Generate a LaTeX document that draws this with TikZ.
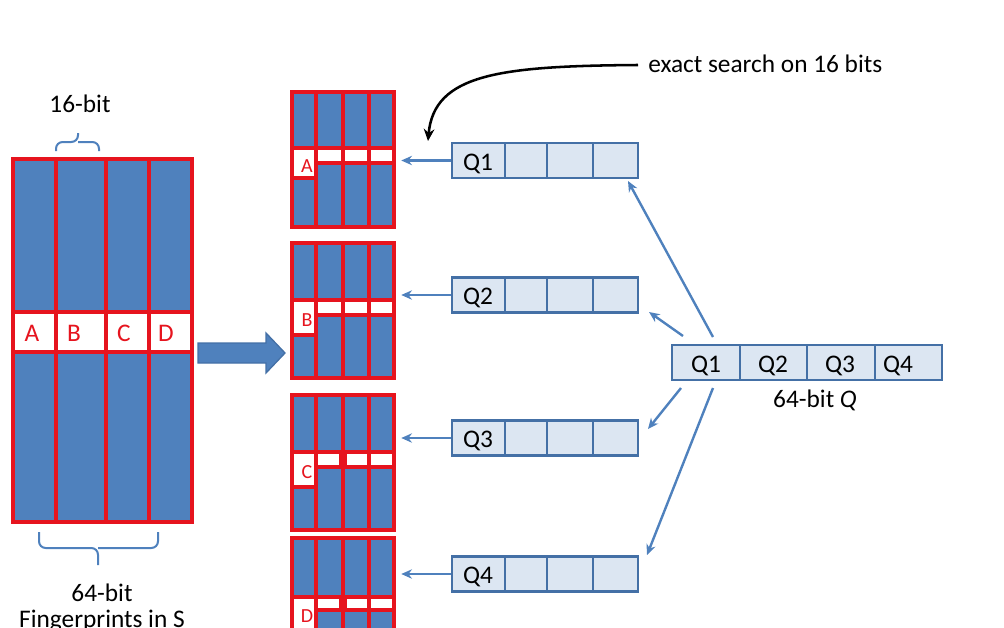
\documentclass[tikz,border=0pt]{standalone}
\usepackage{fontspec}
\setmainfont{Carlito}
\usetikzlibrary{arrows.meta}
\definecolor{pblue}{HTML}{4F81BD}
\definecolor{pred}{RGB}{230,20,30}
\definecolor{qfill}{HTML}{DCE6F2}
\definecolor{qline}{HTML}{4470A6}
\begin{document}
\begin{tikzpicture}[x=0.75pt,y=-0.75pt,
  font=\fontsize{19}{22}\selectfont,
  redline/.style={draw=pred,line width=2.6pt},
  qbox/.style={draw=qline,fill=qfill,line width=2pt,inner sep=0pt,minimum height=26.25pt},
  qdiv/.style={draw=qline,line width=2pt},
  barrow/.style={draw=pblue,line width=1.8pt,-{Stealth[length=8pt,width=7pt]}},
  brace/.style={draw=pblue,line width=1.5pt,rounded corners=5pt},
  lbl/.style={inner sep=0pt,text=black},
  redlbl/.style={inner sep=0pt,text=pred},
  smallred/.style={inner sep=0pt,text=pred,font=\fontsize{15}{17}\selectfont}]
\useasboundingbox (0,0) rectangle (1004,628);
\clip (0,0) rectangle (1004,628);

% ---- big table of fingerprints
\fill[pblue] (13,159) rectangle (192,522);
\fill[white] (13,312) rectangle (192,352);
\draw[redline] (13,159) rectangle (192,522);
\draw[redline] (13,312) -- (192,312) (13,352) -- (192,352);
\foreach \x in {56,106,149} \draw[redline] (\x,159) -- (\x,522);
\node[redlbl] (la) at (32,333) {A};
\node[redlbl] (lb) at (74,333) {B};
\node[redlbl] (lc) at (124,333) {C};
\node[redlbl] (ld) at (166,333) {D};

% braces and labels
\draw[brace] (56,151) -- (56,142) -- (78,142) -- (78,133);
\draw[brace] (78,142) -- (99,142) -- (99,151);
\node[lbl] (sixteen) at (80,104) {16-bit};
\draw[brace] (39,532) -- (39,548) -- (98,548) -- (98,565);
\draw[brace] (98,548) -- (158,548) -- (158,532);
\node[lbl,align=center,anchor=north,font=\fontsize{19}{19.5}\selectfont] (fp) at (102,584) {64-bit\\Fingerprints in S};

% ---- block arrow
\draw[fill=pblue,draw=qline,line width=1pt]
  (198,343) -- (266,343) -- (266,333) -- (285,353) -- (266,373) -- (266,363) -- (198,363) -- cycle;

% ---- permuted tables
\foreach \n/\yt/\ya/\yb/\yc/\L in {1/92/148/163/178/A, 2/243/300/315/335/B, 3/395/452/467/487/C, 4/538/597/610/630/D}{
  \fill[pblue] (292,\yt) rectangle (394,{\yt+135});
  \fill[white] (292,\ya) rectangle (316,\yc);
  \fill[white] (316,\ya) rectangle (394,\yb);
  \draw[redline] (292,\yt) rectangle (394,{\yt+135});
  \foreach \x in {316,343,369} \draw[redline] (\x,\yt) -- (\x,{\yt+135});
  \draw[redline] (292,\ya) -- (394,\ya) (316,\yb) -- (394,\yb) (292,\yc) -- (316,\yc);
  \node[inner sep=0pt,minimum width=76.5pt,minimum height=101.25pt] (t\n) at (343,{\yt+67.5}) {};
  \node[smallred] (tl\n) at (307,{(\ya+\yc)/2+3}) {\L};
}
\fill[pred] (339,452) rectangle (347,467);
\fill[pred] (339,597) rectangle (347,610);

% ---- query boxes
\foreach \n/\y in {1/160.5, 2/295, 3/438, 4/574}{
  \node[qbox,minimum width=139.5pt] (qb\n) at (545,\y) {};
  \foreach \x in {505,547,593} \draw[qdiv] (\x,{\y-17.5}) -- (\x,{\y+17.5});
  \node[lbl] (ql\n) at (478,{\y+3}) {Q\n};
  \draw[barrow,shorten >=5.25pt] (qb\n.west) -- (t\n.east |- qb\n.west);
}

% ---- 64-bit Q
\node[qbox,minimum width=202.5pt] (bigq) at (807,362.5) {};
\foreach \x in {740,807,875} \draw[qdiv] (\x,345) -- (\x,380);
\node[lbl] (bq1) at (706,366) {Q1};
\node[lbl] (bq2) at (773,366) {Q2};
\node[lbl] (bq3) at (840,366) {Q3};
\node[lbl] (bq4) at (898,366) {Q4};
\node[lbl] (qlabel) at (815,400) {64-bit \textit{Q}};

\coordinate (s1) at (713,337);
\coordinate (s2) at (683,336);
\coordinate (s3) at (681,388);
\coordinate (s4) at (713,388);
\coordinate (e1) at (628,181);
\coordinate (e2) at (649,312);
\coordinate (e3) at (648,429);
\coordinate (e4) at (647,555);
\foreach \n in {1,2,3,4} \draw[barrow] (s\n) -- (e\n);

% ---- exact search annotation
\node[lbl,anchor=west] (exact) at (648,64) {exact search on 16 bits};
\coordinate (ctip) at (428,141);
\draw[line width=1.9pt,-{Stealth[length=9pt,width=8pt]}]
  (exact.west) ++(-10,1) .. controls (500,66) and (434,74) .. (ctip);
\end{tikzpicture}
\end{document}
